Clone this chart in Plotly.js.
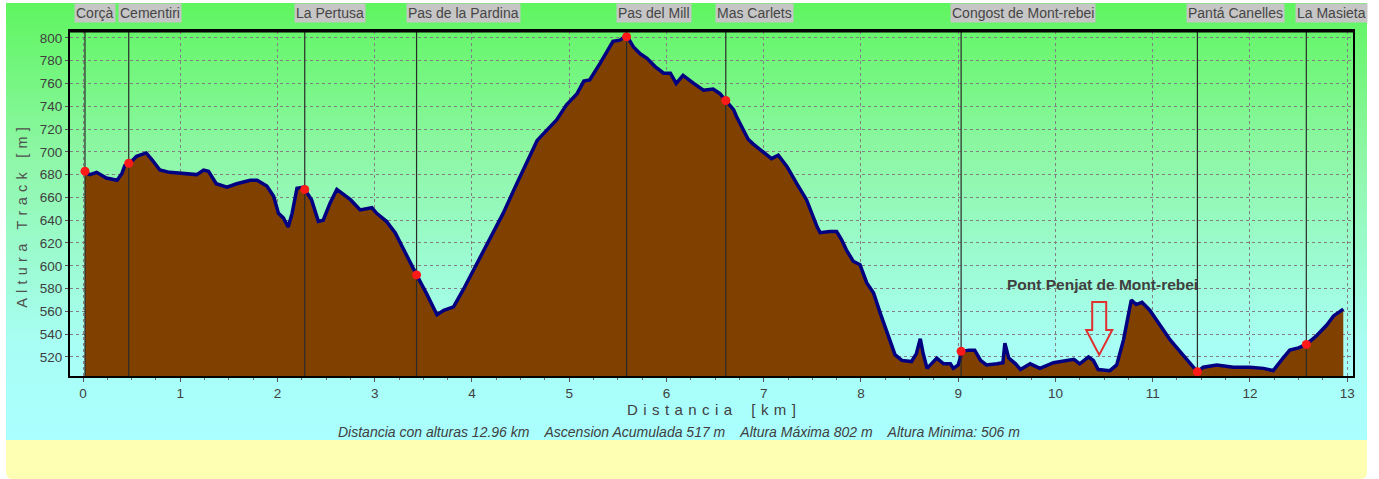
<!DOCTYPE html>
<html><head><meta charset="utf-8">
<script src="https://cdn.plot.ly/plotly-3.0.1.min.js"></script>
<style>
html,body{margin:0;padding:0;background:#fff;width:1379px;height:479px;overflow:hidden}
#bg{position:absolute;left:6px;top:3px;width:1361px;height:437px;background:linear-gradient(to bottom,#5ff55f 0%,#8ef7a6 35%,#a8fef4 78%,#aaffff 100%)}
#yel{position:absolute;left:6px;top:440px;width:1361px;height:39px;background:#ffffb4;border-radius:0 0 6px 6px}
#chart{position:absolute;left:0;top:0;width:1379px;height:479px}
</style></head>
<body>
<div id="bg"></div><div id="yel"></div><div id="chart"></div>
<script>
// Profile (distance km, altitude m)
const dist = [0.02,0.07,0.14,0.24,0.35,0.40,0.43,0.48,0.55,0.65,0.71,0.79,0.89,1.17,1.24,1.29,1.37,1.48,1.58,1.72,1.79,1.89,1.96,2.01,2.06,2.11,2.15,2.20,2.27,2.28,2.35,2.42,2.47,2.54,2.61,2.68,2.75,2.85,2.97,3.02,3.12,3.21,3.29,3.43,3.53,3.64,3.71,3.81,3.91,4.05,4.19,4.32,4.46,4.56,4.67,4.77,4.87,4.97,5.08,5.15,5.21,5.32,5.45,5.52,5.59,5.66,5.73,5.80,5.88,5.97,6.04,6.10,6.17,6.28,6.38,6.48,6.55,6.61,6.69,6.72,6.79,6.84,6.89,7.00,7.08,7.15,7.24,7.34,7.44,7.55,7.58,7.68,7.75,7.80,7.85,7.92,7.99,8.06,8.13,8.20,8.27,8.35,8.42,8.52,8.57,8.61,8.64,8.68,8.78,8.85,8.92,8.95,9.00,9.04,9.11,9.17,9.23,9.29,9.40,9.46,9.48,9.52,9.59,9.64,9.74,9.84,9.98,10.12,10.19,10.25,10.34,10.39,10.44,10.56,10.63,10.70,10.75,10.78,10.83,10.89,10.97,11.08,11.18,11.28,11.39,11.46,11.52,11.66,11.83,12.00,12.14,12.24,12.34,12.41,12.50,12.58,12.69,12.79,12.86,12.95,12.96];
const elev = [682,680,682,677,675,681,688,690,696,699,693,684,682,680,684,683,672,669,672,675,675,670,661,646,642,634,646,668,669,667,658,639,640,655,667,662,658,649,651,646,639,629,615,592,576,557,561,564,579,602,626,646,672,690,710,719,728,741,751,762,763,778,797,798,802,792,786,782,775,769,769,760,767,760,754,755,751,745,737,731,719,711,707,700,694,697,687,672,658,634,629,630,630,623,614,604,601,585,576,558,541,522,517,516,523,536,523,510,519,514,514,510,513,525,526,526,517,513,514,515,532,519,514,509,514,510,515,517,518,514,520,517,509,508,513,535,555,570,566,568,561,547,535,525,514,507,511,513,511,511,510,508,519,526,528,531,539,548,556,561,562];

// Waypoints
const wpNames = ["Corçà","Cementiri","La Pertusa","Pas de la Pardina","Pas del Mill","Mas Carlets","Congost de Mont-rebei","Pantá Canelles","La Masieta"];
const wpDist = [0.02,0.47,2.28,3.43,5.59,6.61,9.03,11.46,12.58];
const wpElev = [683,690,667,592,801,745,525,507,531];

// Axis ticks
const xTicks = [0,1,2,3,4,5,6,7,8,9,10,11,12,13];
const yTicks = [520,540,560,580,600,620,640,660,680,700,720,740,760,780,800];

const summary = "Distancia con alturas 12.96 km   Ascension Acumulada 517 m   Altura Máxima 802 m   Altura Minima: 506 m";
const bridgeLabel = "Pont Penjat de Mont-rebei";
const bridgeDist = 10.45;
const xTitle = "Distancia [km]";
const yTitle = "Altura Track [m]";

const xRange = [-0.134, 13.06];
const yRange = [503.3, 806];
const markerY = 809.6;

const lx = [], ly = [];
wpDist.forEach(d => { lx.push(d, d, null); ly.push(yRange[0], yRange[1], null); });

const font = "Liberation Sans, Arial, sans-serif";

// spread letters of a title
function spread(s, gap, wgap) {
  return s.split(' ').map(w => w.split('').join(gap)).join(gap + wgap + gap);
}

const traces = [
  {x: dist, y: elev, type: 'scatter', mode: 'lines', fill: 'tozeroy', fillcolor: '#804000',
   line: {color: '#000080', width: 3.5}, hoverinfo: 'skip'},
  {x: lx, y: ly, type: 'scatter', mode: 'lines', line: {color: '#2a2a2a', width: 1.2}, hoverinfo: 'skip'},
  {x: wpDist, y: wpElev, type: 'scatter', mode: 'markers', marker: {color: '#ff1a1a', size: 9, line: {width: 0}}, hoverinfo: 'skip'},
  {x: wpDist, y: wpDist.map(() => markerY), type: 'scatter', mode: 'markers', cliponaxis: false,
   marker: {symbol: 'triangle-down', color: '#e01818', size: 12, line: {width: 0}}, hoverinfo: 'skip'}
];

const annotations = wpNames.map((n, i) => ({
  x: wpDist[i], y: 1.052, xref: 'x', yref: 'paper', xanchor: 'left', yanchor: 'middle', xshift: -11,
  text: n, showarrow: false, bgcolor: '#c6c6c6', borderpad: 1,
  font: {family: font, size: 14, color: '#454545'}
}));
annotations.push({x: 0.475, y: -0.162, xref: 'paper', yref: 'paper', xanchor: 'center', yanchor: 'middle',
  text: '<i>' + summary.replace(/   /g, '&nbsp;&nbsp;&nbsp; ') + '</i>', showarrow: false,
  font: {family: font, size: 14, color: '#404040'}});
annotations.push({x: bridgeDist + 0.03, y: 584, xref: 'x', yref: 'y', xanchor: 'center', yanchor: 'middle',
  text: '<b>' + bridgeLabel + '</b>', showarrow: false, font: {family: font, size: 15.5, color: '#404040'}});
// y-axis title as rotated text
annotations.push({x: -0.037, y: 0.46, xref: 'paper', yref: 'paper', xanchor: 'center', yanchor: 'middle',
  textangle: -90, text: spread(yTitle, '\u200A ', '&nbsp;'), showarrow: false,
  font: {family: font, size: 14.5, color: '#505050'}});

// hollow arrow under the bridge label
const ax = bridgeDist, sw = 0.072, hw = 0.134, yTop = 568.3, yNeck = 543.7, yTip = 521.8;
const arrowPath = `M ${ax-sw} ${yTop} L ${ax+sw} ${yTop} L ${ax+sw} ${yNeck} L ${ax+hw} ${yNeck} L ${ax} ${yTip} L ${ax-hw} ${yNeck} L ${ax-sw} ${yNeck} Z`;

const layout = {
  width: 1379, height: 479, autosize: false,
  margin: {l: 70, r: 26, t: 31, b: 103},
  paper_bgcolor: 'rgba(0,0,0,0)', plot_bgcolor: 'rgba(0,0,0,0)',
  showlegend: false,
  font: {family: font, color: '#404040', size: 13.5},
  xaxis: {range: xRange, tickvals: xTicks, ticktext: xTicks.map(String), showgrid: true,
    gridcolor: '#808080', griddash: '3px,3px', gridwidth: 1, zeroline: false,
    showline: true, mirror: true, linecolor: '#000', linewidth: 2,
    ticks: 'outside', ticklen: 4, tickcolor: '#555',
    minor: {dtick: 0.25, ticks: 'outside', ticklen: 2, tickcolor: '#666', showgrid: false},
    tickfont: {size: 13.5, color: '#404040'},
    title: {text: spread(xTitle, '\u200A ', '&nbsp;&nbsp;'), standoff: 2, font: {size: 15, color: '#404040'}}},
  yaxis: {range: yRange, tickvals: yTicks, showgrid: true,
    gridcolor: '#808080', griddash: '3px,3px', gridwidth: 1, zeroline: false,
    showline: true, mirror: true, linecolor: '#000', linewidth: 2,
    ticks: 'outside', ticklen: 3, tickcolor: '#555',
    tickfont: {size: 13.5, color: '#404040'}},
  annotations: annotations,
  shapes: [{type: 'path', xref: 'x', yref: 'y', path: arrowPath, line: {color: '#e03030', width: 2}, fillcolor: 'rgba(0,0,0,0)'},
           {type: 'line', xref: 'paper', yref: 'paper', x0: 0, x1: 1, y0: 1, y1: 1, line: {color: '#000', width: 3}}]
};

Plotly.newPlot('chart', traces, layout, {displayModeBar: false, staticPlot: true});
</script>
</body></html>
